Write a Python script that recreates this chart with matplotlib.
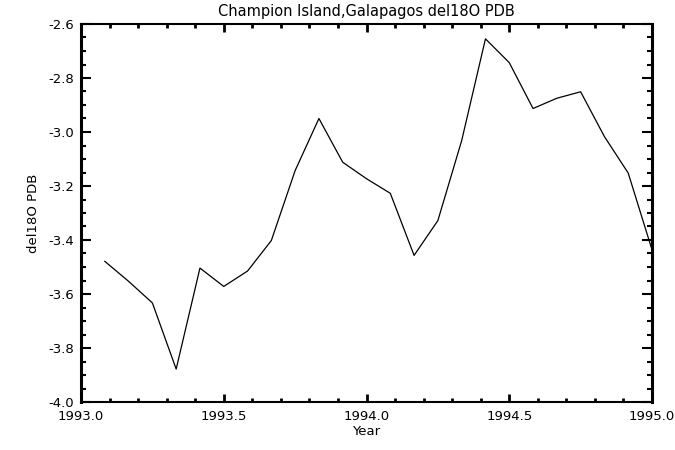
import matplotlib
matplotlib.use("Agg")
import matplotlib.pyplot as plt
import numpy as np
from matplotlib.ticker import MultipleLocator, FormatStrFormatter

# Monthly del18O values, Champion Island (Galapagos)
months = np.arange(1, 25)
years = 1993.0 + months / 12.0
del18o = [-3.479, -3.553, -3.633, -3.878, -3.504, -3.572, -3.515, -3.402,
          -3.143, -2.950, -3.112, -3.173, -3.227, -3.457, -3.328, -3.032,
          -2.655, -2.743, -2.913, -2.875, -2.851, -3.017, -3.152, -3.436]

plt.rcParams["font.family"] = "DejaVu Sans"
plt.rcParams["font.size"] = 9.5

fig = plt.figure(figsize=(6.75, 4.5), dpi=100)
ax = fig.add_axes([81 / 675, 48 / 450, 571 / 675, 378 / 450])

ax.plot(years, del18o, "-", color="black", linewidth=0.9)

ax.set_xlim(1993.0, 1995.0)
ax.set_ylim(-4.0, -2.6)
ax.xaxis.set_major_locator(MultipleLocator(0.5))
ax.xaxis.set_minor_locator(MultipleLocator(0.1))
ax.yaxis.set_major_locator(MultipleLocator(0.2))
ax.yaxis.set_minor_locator(MultipleLocator(0.05))
ax.xaxis.set_major_formatter(FormatStrFormatter("%.1f"))
ax.yaxis.set_major_formatter(FormatStrFormatter("%.1f"))

# IDL-like inward ticks on all four sides
ax.tick_params(axis="x", which="both", direction="in", top=True, width=2, pad=6)
ax.tick_params(axis="x", which="major", length=6)
ax.tick_params(axis="x", which="minor", length=3)
ax.tick_params(axis="y", which="both", direction="in", right=True, width=1.5, pad=5)
ax.tick_params(axis="y", which="major", length=7.5)
ax.tick_params(axis="y", which="minor", length=3.3)
for side, sp in ax.spines.items():
    sp.set_linewidth(2.2 if side in ("left", "right") else 1.5)

ax.set_xlabel("Year", labelpad=1)
ax.set_ylabel("del18O PDB", labelpad=6)
ax.set_title("Champion Island,Galapagos del18O PDB", fontsize=10.5, pad=6)

fig.savefig("out.png", dpi=100)
